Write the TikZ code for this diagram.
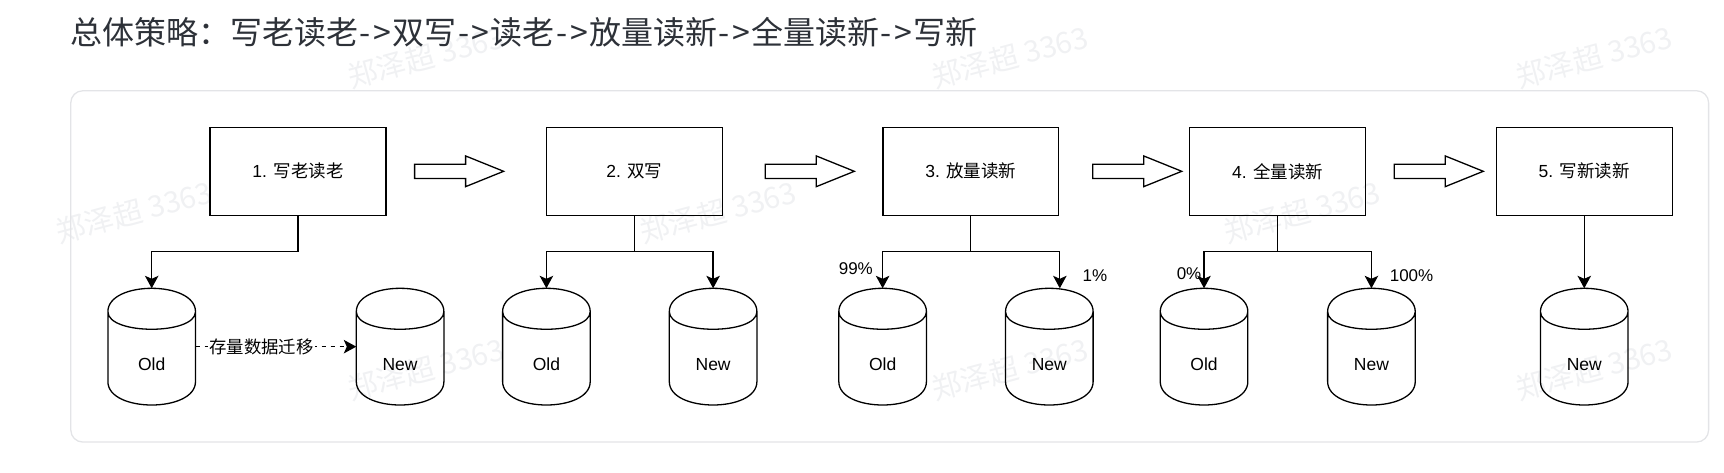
\documentclass[tikz,border=0pt]{standalone}
\usepackage{fontspec}
\setmainfont{Liberation Sans}
\newfontfamily\cjk{Noto Sans CJK SC}
\usepackage{tikz}
\usetikzlibrary{arrows.meta,positioning,shapes.arrows}

\definecolor{titlecol}{HTML}{2D3138}
\definecolor{panelcol}{HTML}{E3E4E7}
\definecolor{markcol}{HTML}{F0F1F3}

\newcommand{\thento}{\kern1.3pt-\kern2.7pt>\kern1.3pt}

\tikzset{
  stage/.style={draw,inner sep=0pt,outer sep=0pt,minimum width=175.8pt,minimum height=88pt,font=\fontsize{17.5}{20}\selectfont},
  blockarrow/.style={draw,single arrow,inner xsep=0pt,inner ysep=6.5pt,outer sep=0pt,minimum height=89pt,
    single arrow head extend=8.2pt,single arrow head indent=0pt,single arrow tip angle=44},
  dbcan/.style={inner sep=0pt,outer sep=0pt,minimum width=87.6pt,minimum height=116.7pt,
    text height=48.6pt,text depth=0pt,font=\fontsize{17.5}{20}\selectfont,
    append after command={\pgfextra{\draw[shift={(\tikzlastnode.north west)}]
      (0,23.4) .. controls (0,-7.8) and (87.6,-7.8) .. (87.6,23.4) -- (87.6,93.3)
      .. controls (87.6,124.5) and (0,124.5) .. (0,93.3) -- cycle
      (0,23.4) .. controls (0,46.8) and (87.6,46.8) .. (87.6,23.4);}}},
  pct/.style={inner sep=0pt,font=\fontsize{17}{20}\selectfont},
  wmark/.style={text=markcol,rotate=15,inner sep=0pt,font=\fontsize{29.5}{32}\cjk},
  fork/.style={to path={-- ++(0,36.4) -| (\tikztotarget)}}
}

\begin{document}
\begin{tikzpicture}[x=1pt,y=-1pt,line width=1.3pt,>={Stealth[length=12.5pt,width=13.5pt,inset=3pt]}]
\useasboundingbox (0,0) rectangle (1724,472);

\node[wmark] (W1) at (426,57)   {郑泽超 3363};
\node[wmark] (W2) at (1010,57)  {郑泽超 3363};
\node[wmark] (W3) at (1594,57)  {郑泽超 3363};
\node[wmark] (W4) at (134,212)  {郑泽超 3363};
\node[wmark] (W5) at (718,212)  {郑泽超 3363};
\node[wmark] (W6) at (1302,212) {郑泽超 3363};
\node[wmark] (W7) at (426,369)  {郑泽超 3363};
\node[wmark] (W8) at (1010,369) {郑泽超 3363};
\node[wmark] (W9) at (1594,369) {郑泽超 3363};

\node[anchor=west,inner sep=0pt,text=titlecol,font=\fontsize{32}{36}\cjk] (Title) at (70,32)
  {总体策略：写老读老\thento 双写\thento 读老\thento 放量读新\thento 全量读新\thento 写新};
\node[draw=panelcol,line width=1.3pt,rounded corners=12pt,inner sep=0pt,minimum width=1637.8pt,minimum height=351.3pt] (Panel) at (889.7,266.4) {};

\node[stage] (S1) at (298,171.3) {1. {\cjk 写老读老}};
\node[blockarrow] (A1) [right=28.7pt of S1] {};
\node[stage] (S2) [right=42.9pt of A1] {2. {\cjk 双写}};
\node[blockarrow] (A2) [right=43pt of S2] {};
\node[stage] (S3) [right=28.6pt of A2] {3. {\cjk 放量读新}};
\node[blockarrow] (A3) [right=34pt of S3] {};
\node[stage] (S4) [right=8pt of A3] {4. {\cjk 全量读新}};
\node[blockarrow] (A4) [right=28.7pt of S4] {};
\node[stage] (S5) [right=13.1pt of A4] {5. {\cjk 写新读新}};

\node[dbcan] (O1) [below=73pt of S1,xshift=-146.3pt] {Old};
\node[dbcan] (N1) [right=160.8pt of O1] {New};
\node[dbcan] (O2) [below=73pt of S2,xshift=-88pt] {Old};
\node[dbcan] (N2) [right=79.1pt of O2] {New};
\node[dbcan] (O3) [below=73pt of S3,xshift=-88.2pt] {Old};
\node[dbcan] (N3) [right=79.1pt of O3] {New};
\node[dbcan] (O4) [below=73pt of S4,xshift=-73.6pt] {Old};
\node[dbcan] (N4) [right=79.8pt of O4] {New};
\node[dbcan] (N5) [below=73pt of S5] {New};

\node[pct,xshift=-26.8pt,yshift=19.3pt] (P1) at (O3.north) {99\%};
\node[pct,xshift=45.5pt,yshift=12.6pt] (P2) at (N3.north) {1\%};
\node[pct,xshift=-15pt,yshift=14.3pt] (P3) at (O4.north) {0\%};
\node[pct,xshift=40.1pt,yshift=12.3pt] (P4) at (N4.north) {100\%};

\path (S1.south) edge[->,fork] (O1.north)
      (S2.south) edge[->,fork] (O2.north)
      (S2.south) edge[->,fork] (N2.north)
      (S3.south) edge[->,fork] (O3.north)
      (S3.south) edge[->,fork] ([xshift=10.5pt]N3.north)
      (S4.south) edge[->,fork] (O4.north)
      (S4.south) edge[->,fork] (N4.north)
      (S5.south) edge[->] (N5.north);
\path (O1.east) edge[->,dashed,dash pattern=on 4.5pt off 4.5pt]
      node[pos=.41,fill=white,inner sep=1pt,font=\fontsize{17.4}{20}\cjk] (Move) {存量数据迁移} (N1.west);
\end{tikzpicture}
\end{document}
